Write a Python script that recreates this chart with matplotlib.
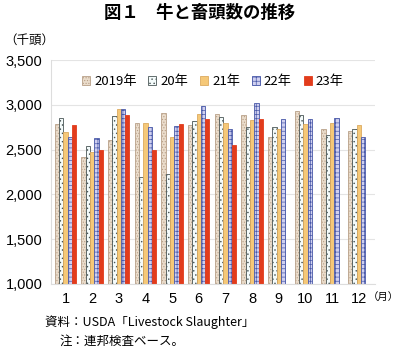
import matplotlib
matplotlib.use("Agg")
import matplotlib.pyplot as plt
import numpy as np

plt.rcParams['font.family'] = ['Noto Sans CJK JP', 'DejaVu Sans']
plt.rcParams['hatch.linewidth'] = 0.5

months = ["1", "2", "3", "4", "5", "6", "7", "8", "9", "10", "11", "12"]
series_names = ["2019年", "20年", "21年", "22年", "23年"]
v2019 = [2786, 2418, 2609, 2794, 2904, 2775, 2900, 2889, 2639, 2926, 2735, 2713]
v2020 = [2853, 2540, 2878, 2193, 2226, 2823, 2867, 2749, 2757, 2889, 2661, 2735]
v2021 = [2691, 2473, 2948, 2794, 2646, 2900, 2801, 2834, 2727, 2790, 2801, 2771]
v2022 = [2646, 2635, 2956, 2757, 2764, 2985, 2731, 3018, 2842, 2842, 2856, 2639]
v2023 = [2775, 2499, 2886, 2492, 2786, 2845, 2554, 2842]
yticks = [1000, 1500, 2000, 2500, 3000, 3500]

styles = [
    dict(facecolor='#eadccb', edgecolor='#b8a088', hatch='......'),
    dict(facecolor='#f4fbfb', edgecolor='#4a5656', hatch='....'),
    dict(facecolor='#f5c878', edgecolor='#dcaa60', hatch=None),
    dict(facecolor='#d0d0f0', edgecolor='#4858a8', hatch='++++'),
    dict(facecolor='#e23c1c', edgecolor='#e23c1c', hatch=None),
]

fig = plt.figure(figsize=(4.0, 3.51), dpi=100)
ax = fig.add_axes([0.127, 0.191, 0.81, 0.638])

x = np.arange(len(months))
w = 0.16
data = [v2019, v2020, v2021, v2022, v2023]
for i, (vals, name, st) in enumerate(zip(data, series_names, styles)):
    xs = x[:len(vals)] + (i - 2) * w
    ax.bar(xs, np.array(vals) - 1000, bottom=1000, width=w, label=name,
           linewidth=0.6, **st)

ax.set_ylim(1000, 3500)
ax.set_xlim(-0.55, 11.6)
ax.set_yticks(yticks)
ax.set_yticklabels([f"{v:,}" for v in yticks], fontsize=10.5,
                   family=['Liberation Sans', 'DejaVu Sans'])
ax.set_xticks(x)
ax.set_xticklabels(months, fontsize=10.5, family=['Liberation Sans', 'DejaVu Sans'])
ax.tick_params(length=0, pad=6)
ax.yaxis.grid(True, color='#e4e4e4', linewidth=0.8)
ax.set_axisbelow(True)
for s in ['top', 'right']:
    ax.spines[s].set_visible(False)
ax.spines['left'].set_color('#dddddd')
ax.spines['bottom'].set_color('#dddddd')

leg = ax.legend(loc='upper center', bbox_to_anchor=(0.5, 0.985), ncol=5,
                frameon=False, fontsize=9.5, handlelength=0.6, handleheight=0.6,
                handletextpad=0.3, columnspacing=0.9)

fig.text(0.5, 0.962, "図１　牛と畜頭数の推移", ha='center', va='center',
         fontsize=12.5, fontweight='bold')
fig.text(0.01, 0.886, "（千頭）", ha='left', va='center', fontsize=9)
fig.text(0.998, 0.153, "（月）", ha='right', va='center', fontsize=7.5)
fig.text(0.112, 0.083, "資料：USDA「Livestock Slaughter」", ha='left', va='center', fontsize=9)
fig.text(0.148, 0.028, "注：連邦検査ベース。", ha='left', va='center', fontsize=9)

fig.savefig("out.png", dpi=100)
